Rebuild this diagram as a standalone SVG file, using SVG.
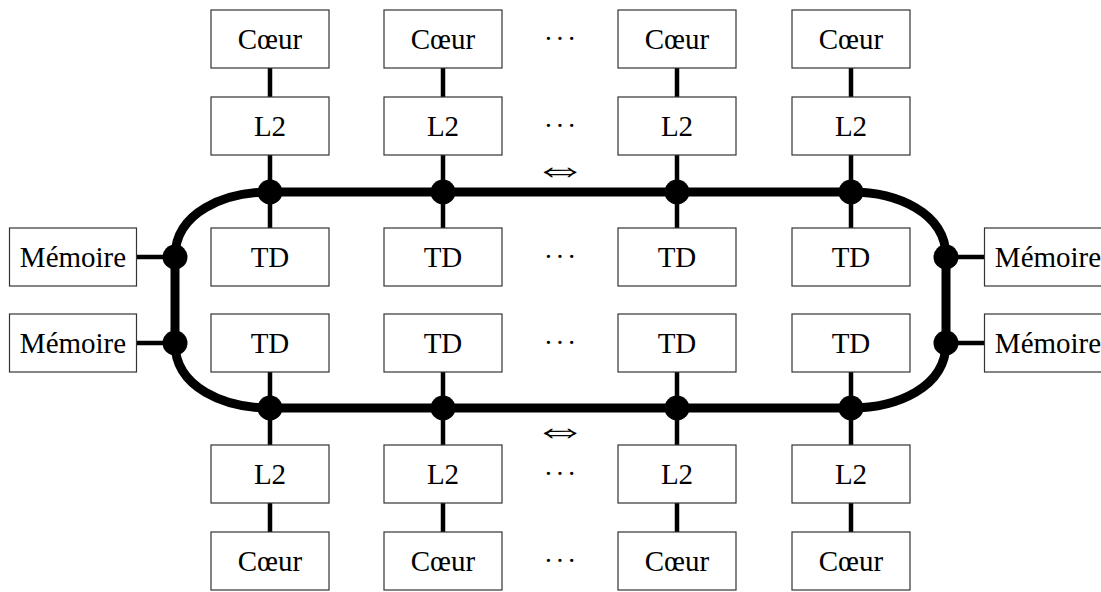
<svg xmlns="http://www.w3.org/2000/svg" width="1101" height="592" viewBox="0 0 1101 592">
<style>
.box{fill:#fff;stroke:#333;stroke-width:1.2}
.lbl{font-family:"Liberation Serif","Times New Roman",serif;font-size:29px;text-anchor:middle;fill:#000}
.dots{font-family:"Liberation Serif","Times New Roman",serif;font-size:28px;text-anchor:middle;fill:#000}
.arr{font-family:"DejaVu Sans",sans-serif;font-size:55px;font-weight:200;text-anchor:middle;fill:#000}
.thin{stroke:#000;stroke-width:4.5;fill:none}
.ring{stroke:#000;stroke-width:9;fill:none}
.dot{fill:#000}
</style>
<rect width="1101" height="592" fill="#fff"/>
<g id="connectors">
<path class="thin" d="M270,68V97M443,68V97M677,68V97M851,68V97"/>
<path class="thin" d="M270,155V228M443,155V228M677,155V228M851,155V228"/>
<path class="thin" d="M270,372V445M443,372V445M677,372V445M851,372V445"/>
<path class="thin" d="M270,503V532M443,503V532M677,503V532M851,503V532"/>
<path class="thin" d="M136.5,257H175M136.5,343H175M946,257H984.5M946,343H984.5"/>
<path id="ring" class="ring" d="M270,192H851C896,192 946,212 946,257V343C946,388 896,408 851,408H270C225,408 175,388 175,343V257C175,212 225,192 270,192Z"/>
<g class="dot">
<circle cx="270" cy="192" r="12.5"/><circle cx="443" cy="192" r="12.5"/><circle cx="677" cy="192" r="12.5"/><circle cx="851" cy="192" r="12.5"/>
<circle cx="270" cy="408" r="12.5"/><circle cx="443" cy="408" r="12.5"/><circle cx="677" cy="408" r="12.5"/><circle cx="851" cy="408" r="12.5"/>
<circle cx="175" cy="257" r="12.5"/><circle cx="175" cy="343" r="12.5"/><circle cx="946" cy="257" r="12.5"/><circle cx="946" cy="343" r="12.5"/>
</g>
</g>
<g id="c1t"><rect class="box" x="211" y="10" width="118" height="58"/><text class="lbl" x="270" y="48.7">Cœur</text></g>
<g id="c2t"><rect class="box" x="384" y="10" width="118" height="58"/><text class="lbl" x="443" y="48.7">Cœur</text></g>
<g id="c3t"><rect class="box" x="618" y="10" width="118" height="58"/><text class="lbl" x="677" y="48.7">Cœur</text></g>
<g id="c4t"><rect class="box" x="792" y="10" width="118" height="58"/><text class="lbl" x="851" y="48.7">Cœur</text></g>
<g id="l1t"><rect class="box" x="211" y="97" width="118" height="58"/><text class="lbl" x="270" y="135.7">L2</text></g>
<g id="l2t"><rect class="box" x="384" y="97" width="118" height="58"/><text class="lbl" x="443" y="135.7">L2</text></g>
<g id="l3t"><rect class="box" x="618" y="97" width="118" height="58"/><text class="lbl" x="677" y="135.7">L2</text></g>
<g id="l4t"><rect class="box" x="792" y="97" width="118" height="58"/><text class="lbl" x="851" y="135.7">L2</text></g>
<g id="t1t"><rect class="box" x="211" y="228" width="118" height="58"/><text class="lbl" x="270" y="266.7">TD</text></g>
<g id="t2t"><rect class="box" x="384" y="228" width="118" height="58"/><text class="lbl" x="443" y="266.7">TD</text></g>
<g id="t3t"><rect class="box" x="618" y="228" width="118" height="58"/><text class="lbl" x="677" y="266.7">TD</text></g>
<g id="t4t"><rect class="box" x="792" y="228" width="118" height="58"/><text class="lbl" x="851" y="266.7">TD</text></g>
<g id="t1b"><rect class="box" x="211" y="314" width="118" height="58"/><text class="lbl" x="270" y="352.7">TD</text></g>
<g id="t2b"><rect class="box" x="384" y="314" width="118" height="58"/><text class="lbl" x="443" y="352.7">TD</text></g>
<g id="t3b"><rect class="box" x="618" y="314" width="118" height="58"/><text class="lbl" x="677" y="352.7">TD</text></g>
<g id="t4b"><rect class="box" x="792" y="314" width="118" height="58"/><text class="lbl" x="851" y="352.7">TD</text></g>
<g id="l1b"><rect class="box" x="211" y="445" width="118" height="58"/><text class="lbl" x="270" y="483.7">L2</text></g>
<g id="l2b"><rect class="box" x="384" y="445" width="118" height="58"/><text class="lbl" x="443" y="483.7">L2</text></g>
<g id="l3b"><rect class="box" x="618" y="445" width="118" height="58"/><text class="lbl" x="677" y="483.7">L2</text></g>
<g id="l4b"><rect class="box" x="792" y="445" width="118" height="58"/><text class="lbl" x="851" y="483.7">L2</text></g>
<g id="c1b"><rect class="box" x="211" y="532" width="118" height="58"/><text class="lbl" x="270" y="570.7">Cœur</text></g>
<g id="c2b"><rect class="box" x="384" y="532" width="118" height="58"/><text class="lbl" x="443" y="570.7">Cœur</text></g>
<g id="c3b"><rect class="box" x="618" y="532" width="118" height="58"/><text class="lbl" x="677" y="570.7">Cœur</text></g>
<g id="c4b"><rect class="box" x="792" y="532" width="118" height="58"/><text class="lbl" x="851" y="570.7">Cœur</text></g>
<g id="m1"><rect class="box" x="9.5" y="228" width="127" height="58"/><text class="lbl" x="73" y="266.7">Mémoire</text></g>
<g id="m2"><rect class="box" x="9.5" y="314" width="127" height="58"/><text class="lbl" x="73" y="352.7">Mémoire</text></g>
<g id="m3"><rect class="box" x="984.5" y="228" width="127" height="58"/><text class="lbl" x="1048" y="266.7">Mémoire</text></g>
<g id="m4"><rect class="box" x="984.5" y="314" width="127" height="58"/><text class="lbl" x="1048" y="352.7">Mémoire</text></g>
<g id="ellipses">
<text class="dots" x="548.3 560 571.7" y="47.5">···</text>
<text class="dots" x="548.3 560 571.7" y="134.5">···</text>
<text class="dots" x="548.3 560 571.7" y="265.5">···</text>
<text class="dots" x="548.3 560 571.7" y="351.5">···</text>
<text class="dots" x="548.3 560 571.7" y="482.5">···</text>
<text class="dots" x="548.3 560 571.7" y="569.5">···</text>
<text class="arr" transform="translate(560,171) scale(1,0.75)" x="0" y="14.3">⇔</text>
<text class="arr" transform="translate(560,432) scale(1,0.75)" x="0" y="14.3">⇔</text>
</g>
</svg>
